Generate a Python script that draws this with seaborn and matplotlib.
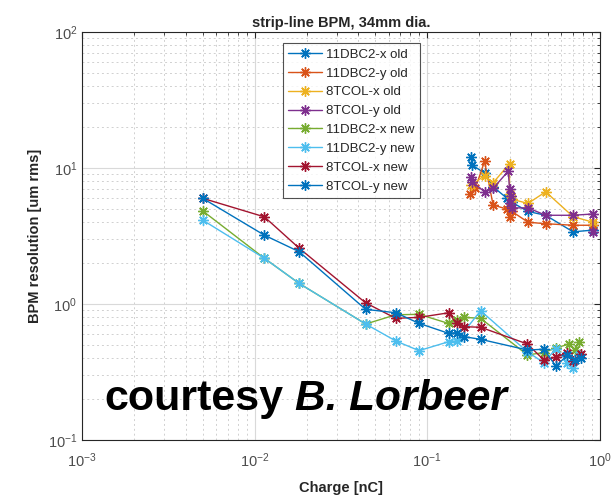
import numpy as np
import pandas as pd
import seaborn as sns
import matplotlib
matplotlib.use("Agg")
import matplotlib.pyplot as plt
from matplotlib.ticker import LogLocator, NullFormatter

# data
labels = ['11DBC2-x old', '11DBC2-y old', '8TCOL-x old', '8TCOL-y old',
          '11DBC2-x new', '11DBC2-y new', '8TCOL-x new', '8TCOL-y new']
colors = ['#0072BD', '#D95319', '#EDB120', '#7E2F8E',
          '#77AC30', '#4DBEEE', '#A2142F', '#0072BD']

x_dbc2x_old = [0.18, 0.183, 0.215, 0.241, 0.29, 0.30, 0.31, 0.384, 0.486, 0.70, 0.913]
y_dbc2x_old = [12.1, 10.5, 9.2, 7.3, 6.0, 5.2, 5.6, 4.8, 4.5, 3.4, 3.5]
x_dbc2y_old = [0.178, 0.19, 0.215, 0.241, 0.29, 0.30, 0.31, 0.384, 0.486, 0.70, 0.913]
y_dbc2y_old = [6.5, 7.1, 11.2, 5.35, 5.0, 4.4, 4.8, 4.0, 3.9, 3.8, 3.8]
x_tcolx_old = [0.18, 0.215, 0.241, 0.30, 0.30, 0.31, 0.384, 0.486, 0.70, 0.913]
y_tcolx_old = [7.5, 8.8, 7.8, 10.8, 6.5, 5.9, 5.5, 6.7, 4.4, 4.0]
x_tcoly_old = [0.18, 0.183, 0.215, 0.241, 0.295, 0.30, 0.30, 0.305, 0.31, 0.384, 0.486, 0.70, 0.913, 0.913]
y_tcoly_old = [8.6, 7.9, 6.7, 7.1, 9.5, 7.0, 5.5, 6.2, 5.1, 5.1, 4.5, 4.5, 4.6, 3.4]

x_dbc2x_new = [0.005, 0.0114, 0.0181, 0.044, 0.0658, 0.0897, 0.133, 0.148, 0.164, 0.204, 0.381, 0.475, 0.556, 0.665, 0.72, 0.76]
y_dbc2x_new = [4.85, 2.17, 1.42, 0.713, 0.834, 0.84, 0.72, 0.76, 0.798, 0.785, 0.422, 0.44, 0.475, 0.508, 0.46, 0.53]
x_dbc2y_new = [0.005, 0.0114, 0.0181, 0.044, 0.0658, 0.0897, 0.133, 0.148, 0.204, 0.381, 0.475, 0.556, 0.65, 0.70, 0.76]
y_dbc2y_new = [4.15, 2.17, 1.42, 0.713, 0.535, 0.454, 0.528, 0.535, 0.893, 0.445, 0.37, 0.47, 0.37, 0.34, 0.42]
x_tcolx_new = [0.005, 0.0114, 0.0181, 0.044, 0.0658, 0.0897, 0.133, 0.148, 0.164, 0.204, 0.381, 0.475, 0.556, 0.65, 0.70, 0.78]
y_tcolx_new = [6.0, 4.38, 2.58, 1.02, 0.785, 0.798, 0.862, 0.721, 0.681, 0.675, 0.508, 0.387, 0.405, 0.44, 0.38, 0.43]
x_tcoly_new = [0.005, 0.0114, 0.0181, 0.044, 0.0658, 0.0897, 0.133, 0.148, 0.164, 0.204, 0.381, 0.475, 0.556, 0.65, 0.72, 0.78]
y_tcoly_new = [6.0, 3.21, 2.43, 0.914, 0.863, 0.721, 0.609, 0.615, 0.575, 0.55, 0.459, 0.465, 0.35, 0.42, 0.39, 0.40]

xs = [x_dbc2x_old, x_dbc2y_old, x_tcolx_old, x_tcoly_old,
      x_dbc2x_new, x_dbc2y_new, x_tcolx_new, x_tcoly_new]
ys = [y_dbc2x_old, y_dbc2y_old, y_tcolx_old, y_tcoly_old,
      y_dbc2x_new, y_dbc2y_new, y_tcolx_new, y_tcoly_new]

sns.set_style("white")
plt.rcParams['font.family'] = ['Liberation Sans', 'DejaVu Sans']

fig = plt.figure(figsize=(6.12, 4.96), dpi=100)
ax = fig.add_axes([0.134, 0.113, 0.846, 0.822])

for lab, col, xv, yv in zip(labels, colors, xs, ys):
    df = pd.DataFrame({'x': xv, 'y': yv})
    sns.lineplot(data=df, x='x', y='y', ax=ax, color=col, label=lab,
                 sort=False, estimator=None, marker=(8, 2, 0),
                 markersize=7.5, markeredgewidth=1.0, markeredgecolor=col,
                 linewidth=1.0)

ax.set_xscale('log')
ax.set_yscale('log')
ax.set_xlim(1e-3, 1)
ax.set_ylim(1e-1, 1e2)

ax.xaxis.set_minor_locator(LogLocator(base=10, subs=np.arange(2, 10)))
ax.yaxis.set_minor_locator(LogLocator(base=10, subs=np.arange(2, 10)))
ax.xaxis.set_minor_formatter(NullFormatter())
ax.yaxis.set_minor_formatter(NullFormatter())
ax.grid(True, which='major', color='#d9d9d9', linewidth=0.8, linestyle='-')
ax.grid(True, which='minor', color='#d0d0d0', linewidth=0.7, linestyle=(0, (2, 3)))
ax.tick_params(which='both', direction='in', top=True, right=True,
               colors='#262626', labelcolor='#4d4d4d', labelsize=10.5)
ax.tick_params(which='major', length=4)
ax.tick_params(which='minor', length=2.5)
ax.tick_params(axis='x', pad=8)
for sp in ax.spines.values():
    sp.set_color('#262626')
    sp.set_linewidth(0.8)
    sp.set_visible(True)

ax.set_title('strip-line BPM, 34mm dia.', fontsize=10.5, fontweight='bold', pad=4)
ax.set_xlabel('Charge [nC]', fontsize=10.5, fontweight='bold', labelpad=8)
ax.set_ylabel('BPM resolution [um rms]', fontsize=10.5, fontweight='bold')

leg = ax.legend(loc='upper left', bbox_to_anchor=(0.388, 0.973), fontsize=9.5,
                frameon=True, fancybox=False, edgecolor='#262626',
                handlelength=2.6, borderpad=0.4, labelspacing=0.5,
                handletextpad=0.3, borderaxespad=0)
leg.get_frame().set_linewidth(0.8)

ax.text(0.044, 0.074, 'courtesy', transform=ax.transAxes, fontsize=31,
        fontweight='bold', color='black', va='baseline')
ax.text(0.411, 0.074, 'B. Lorbeer', transform=ax.transAxes, fontsize=30.5,
        fontweight='bold', fontstyle='italic', color='black', va='baseline')

fig.savefig('out.png', dpi=100)
